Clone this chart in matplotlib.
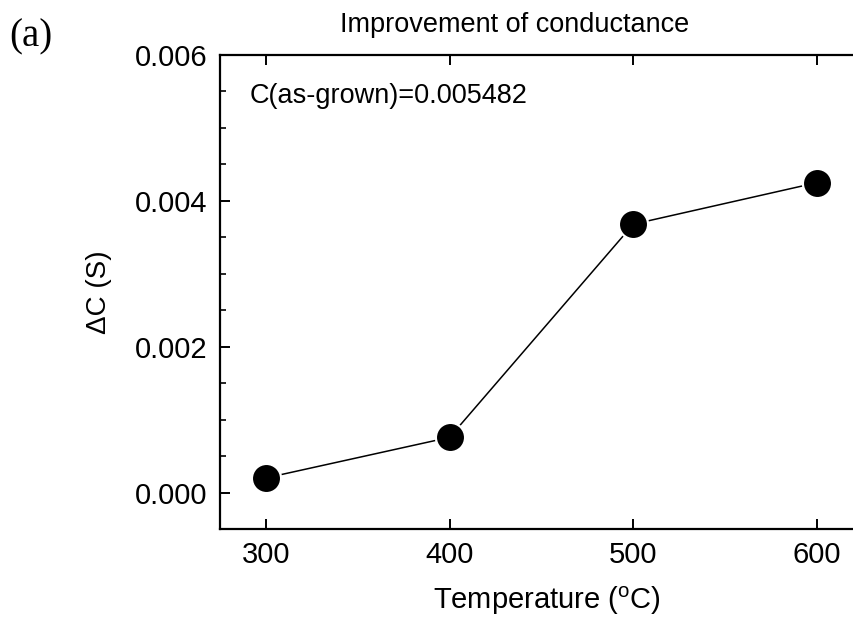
import matplotlib
matplotlib.use("Agg")
import matplotlib.pyplot as plt
from matplotlib.ticker import MultipleLocator

# values
temperature = [300, 400, 500, 600]
delta_c = [0.00020, 0.000757, 0.00368, 0.00425]
x_ticks = [300, 400, 500, 600]
y_ticks = [0.000, 0.002, 0.004, 0.006]

plt.rcParams['font.family'] = ['Liberation Sans', 'DejaVu Sans']

fig = plt.figure(figsize=(8.54, 6.19), dpi=100)
# right spine lies just past the image edge, as in the reference crop
ax = fig.add_axes([0.2576, 0.1454, 0.7529, 0.7657])

ax.plot(temperature, delta_c, color="black", lw=1.1, zorder=2)
ax.plot(temperature, delta_c, "o", ms=21, mfc="black", mec="white", mew=1.6,
        ls="none", zorder=3, clip_on=False)

ax.set_xlim(275, 625)
ax.set_ylim(-0.0005, 0.006)
ax.set_xticks(x_ticks)
ax.set_yticks(y_ticks)
ax.set_yticklabels([f"{v:.3f}" for v in y_ticks])
ax.yaxis.set_minor_locator(MultipleLocator(0.0005))

ax.tick_params(axis="both", which="major", direction="in", length=7, width=1.4,
               labelsize=21, top=True, right=True, pad=9)
ax.tick_params(axis="y", which="minor", direction="in", length=4, width=1.2,
               right=True)
for s in ax.spines.values():
    s.set_linewidth(1.6)

ax.set_xlabel("Temperature ($\\mathregular{^{o}}$C)", fontsize=21)
ax.xaxis.set_label_coords(0.508, -0.118)
ax.set_ylabel("ΔC (S)", fontsize=20)
ax.yaxis.set_label_coords(-0.168, 0.5)

ax.text(0.046, 0.914, "C(as-grown)=0.005482", fontsize=19.5, va="center",
        ha="left", transform=ax.transAxes)

fig.text(515 / 854, 1 - 25 / 619, "Improvement of conductance", fontsize=19.5,
         ha="center", va="center")
fig.text(9 / 854, 1 - 37 / 619, "(a)", fontsize=28, ha="left", va="center",
         family="Liberation Serif")

fig.savefig("out.png", dpi=100)
